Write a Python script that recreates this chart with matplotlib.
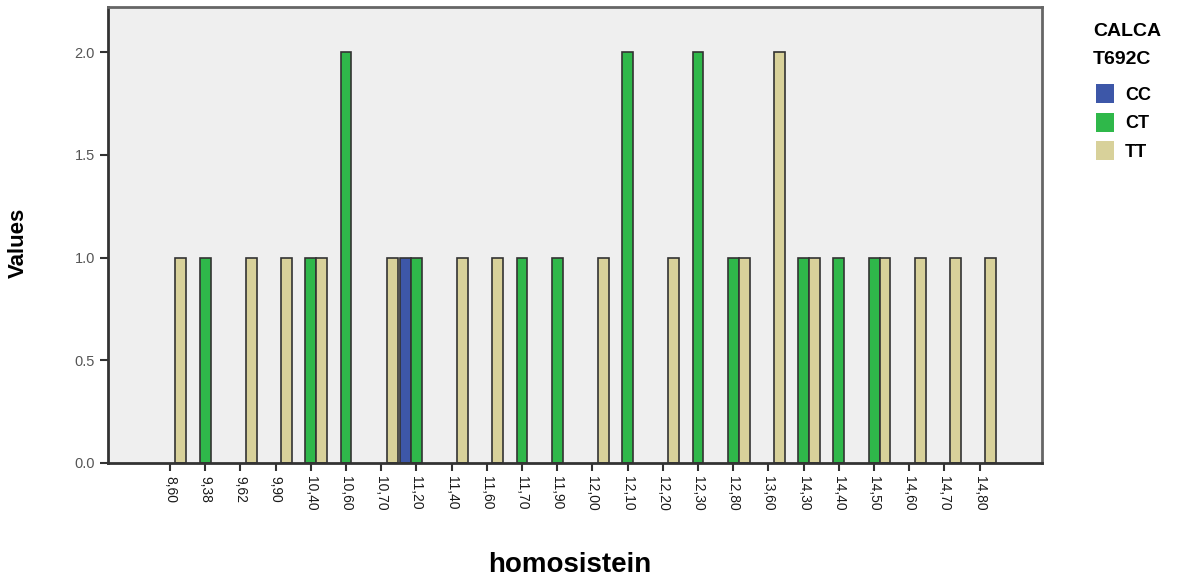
import numpy as np
import matplotlib.pyplot as plt
from matplotlib.patches import Patch

plt.rcParams['font.family'] = ['Liberation Sans', 'DejaVu Sans']

# homosistein levels (categories) and counts per genotype
categories = ['8,60', '9,38', '9,62', '9,90', '10,40', '10,60', '10,70', '11,20',
              '11,40', '11,60', '11,70', '11,90', '12,00', '12,10', '12,20', '12,30',
              '12,80', '13,60', '14,30', '14,40', '14,50', '14,60', '14,70', '14,80']
cc = [0, 0, 0, 0, 0, 0, 0, 1, 0, 0, 0, 0, 0, 0, 0, 0, 0, 0, 0, 0, 0, 0, 0, 0]
ct = [0, 1, 0, 0, 1, 2, 0, 1, 0, 0, 1, 1, 0, 2, 0, 2, 1, 0, 1, 1, 1, 0, 0, 0]
tt = [1, 0, 1, 1, 1, 0, 1, 0, 1, 1, 0, 0, 1, 0, 1, 0, 1, 2, 1, 0, 1, 1, 1, 1]

colors = {'CC': '#3d57a8', 'CT': '#2fb84a', 'TT': '#d8d19a'}

fig = plt.figure(figsize=(11.81, 5.82), dpi=100)
ax = fig.add_axes([108 / 1181, 1 - 463 / 582, (1042 - 108) / 1181, (463 - 7) / 582])
ax.set_facecolor('#efefef')

x = np.arange(len(categories))
w = 0.31
for vals, off, key in [(cc, -w, 'CC'), (ct, 0, 'CT'), (tt, w, 'TT')]:
    v = np.array(vals, dtype=float)
    m = v > 0
    ax.bar(x[m] + off, v[m], width=w, color=colors[key], edgecolor='#333333', linewidth=1.2)

ax.set_xlim(-1.76, 24.77)
ax.set_ylim(0, 2.22)
ax.set_xticks(x)
ax.set_xticklabels(categories, rotation=-90, fontsize=10, color='#1a1a1a')
ax.set_yticks([0, 0.5, 1.0, 1.5, 2.0])
ax.set_yticklabels(['0.0', '0.5', '1.0', '1.5', '2.0'], fontsize=10.5, color='#555555')
ax.tick_params(axis='both', direction='out', length=6, width=1.5, color='#333333')

for s in ['left', 'bottom']:
    ax.spines[s].set_color('#333333')
    ax.spines[s].set_linewidth(2)
for s in ['top', 'right']:
    ax.spines[s].set_color('#666666')
    ax.spines[s].set_linewidth(2)

fig.text(570 / 1181, 1 - 565 / 582, 'homosistein', fontsize=20, fontweight='bold',
         ha='center', va='center')
fig.text(18 / 1181, 1 - 243 / 582, 'Values', fontsize=16, fontweight='bold',
         rotation=90, ha='center', va='center')

fig.text(1093 / 1181, 1 - 31 / 582, 'CALCA', fontsize=14, fontweight='bold',
         ha='left', va='center')
fig.text(1093 / 1181, 1 - 59 / 582, 'T692C', fontsize=14, fontweight='bold',
         ha='left', va='center')
handles = [Patch(facecolor=colors[k], edgecolor='none', label=k) for k in ['CC', 'CT', 'TT']]
fig.legend(handles=handles, loc='upper left', bbox_to_anchor=(1096 / 1181, 1 - 84 / 582),
           frameon=False, prop={'weight': 'bold', 'size': 13}, handlelength=1.0,
           handleheight=1.25, handletextpad=0.6, labelspacing=0.5, borderaxespad=0,
           borderpad=0)

fig.savefig('out.png', dpi=100)
